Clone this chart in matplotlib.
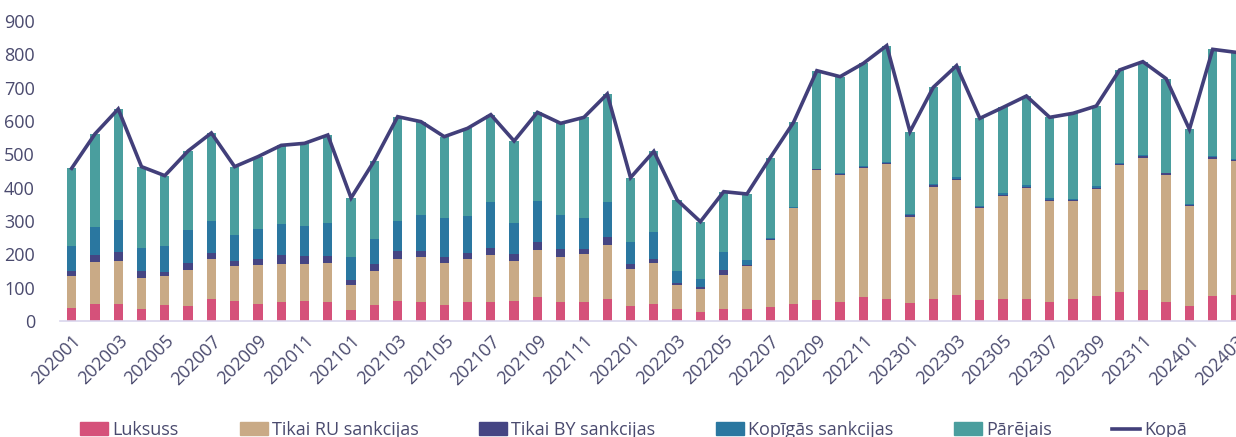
import matplotlib
matplotlib.use("Agg")
import matplotlib.pyplot as plt
import numpy as np
from matplotlib.patches import Patch
from matplotlib.lines import Line2D

plt.rcParams['font.family'] = ['Open Sans', 'DejaVu Sans']

months = [f"{y}{m:02d}" for y in (2020, 2021, 2022, 2023) for m in range(1, 13)] + ["202401", "202402", "202403"]

# cumulative tops, converted to segment values below
luksuss = [39, 52, 52, 37, 48, 46, 65, 60, 50, 58, 60, 56,
           33, 48, 60, 58, 48, 58, 58, 60, 71, 56, 58, 65,
           46, 52, 35, 28, 37, 37, 43, 52, 63, 58, 73, 65,
           55, 65, 79, 63, 65, 65, 57, 65, 76, 88, 92, 58,
           45, 76, 78]
tikai_ru = [96, 125, 129, 91, 87, 108, 122, 104, 117, 114, 112, 118,
            75, 101, 125, 134, 125, 127, 140, 121, 142, 136, 143, 163,
            110, 121, 74, 69, 102, 128, 201, 286, 390, 381, 385, 406,
            258, 338, 343, 275, 310, 333, 303, 295, 320, 379, 397, 379,
            301, 411, 403]
tikai_by = [14, 20, 25, 21, 12, 20, 17, 15, 18, 25, 22, 21,
            15, 21, 24, 18, 19, 19, 21, 19, 25, 23, 16, 24,
            15, 13, 4, 6, 13, 3, 2, 2, 2, 3, 3, 2,
            4, 4, 4, 3, 4, 5, 4, 3, 4, 4, 6, 6,
            3, 4, 3]
kopigas = [76, 85, 96, 70, 78, 100, 96, 78, 91, 94, 91, 100,
           69, 75, 91, 109, 118, 112, 139, 95, 122, 103, 91, 106,
           65, 80, 37, 24, 55, 16, 3, 2, 2, 3, 4, 4,
           5, 4, 6, 3, 5, 5, 5, 4, 4, 2, 2, 2,
           3, 3, 3]
parejais = [233, 279, 334, 244, 211, 236, 264, 206, 217, 236, 248, 263,
            177, 236, 313, 279, 243, 262, 261, 245, 266, 275, 303, 323,
            194, 243, 213, 171, 181, 197, 241, 254, 294, 288, 308, 349,
            246, 290, 334, 264, 257, 267, 242, 256, 241, 280, 281, 282,
            223, 321, 319]
kopa = [a + b + c + d + e for a, b, c, d, e in zip(luksuss, tikai_ru, tikai_by, kopigas, parejais)]

series = [("Luksuss", luksuss, "#D5517A"),
          ("Tikai RU sankcijas", tikai_ru, "#C9AA86"),
          ("Tikai BY sankcijas", tikai_by, "#454583"),
          ("Kopīgās sankcijas", kopigas, "#2A77A0"),
          ("Pārējais", parejais, "#4A9E9E")]
line_color = "#423F7A"
text_color = "#4A4A6E"

W, H = 1236, 437
fig = plt.figure(figsize=(W / 100, H / 100), dpi=100)
ax = fig.add_axes([60 / W, (H - 321) / H, (W - 60) / W, 300 / H])

x = np.arange(len(months))
bottom = np.zeros(len(months))
for name, vals, col in series:
    ax.bar(x, vals, width=0.4, bottom=bottom, color=col, label=name, zorder=2)
    bottom += np.array(vals)
ax.plot(x, kopa, color=line_color, lw=2.6, zorder=3, solid_joinstyle='miter')

ax.set_xlim(-0.5, 50.0)
ax.set_ylim(0, 900)
ax.set_yticks(np.arange(0, 901, 100))
ax.set_xticks(x[::2])
ax.set_xticklabels(months[::2], rotation=45, ha='right', rotation_mode='anchor')
ax.tick_params(axis='both', length=0, labelsize=13, colors=text_color)
ax.tick_params(axis='y', pad=18)
ax.tick_params(axis='x', pad=8)
for s in ('left', 'right', 'top'):
    ax.spines[s].set_visible(False)
ax.spines['bottom'].set_color('#D9D6EC')
ax.spines['bottom'].set_linewidth(1.2)

handles = [Patch(color=c) for _, _, c in series] + [Line2D([], [], color=line_color, lw=2.6)]
labels = [n for n, _, _ in series] + ["Kopā"]
x_starts = [80, 240, 479, 716, 954, 1112]
for h, l, xs in zip(handles, labels, x_starts):
    fig.legend(handles=[h], labels=[l], loc='center left',
               bbox_to_anchor=(xs / W, (H - 430) / H), frameon=False,
               fontsize=13, handlelength=1.55, handletextpad=0.25,
               borderpad=0, borderaxespad=0, labelcolor=text_color)

fig.savefig("out.png", dpi=100)
